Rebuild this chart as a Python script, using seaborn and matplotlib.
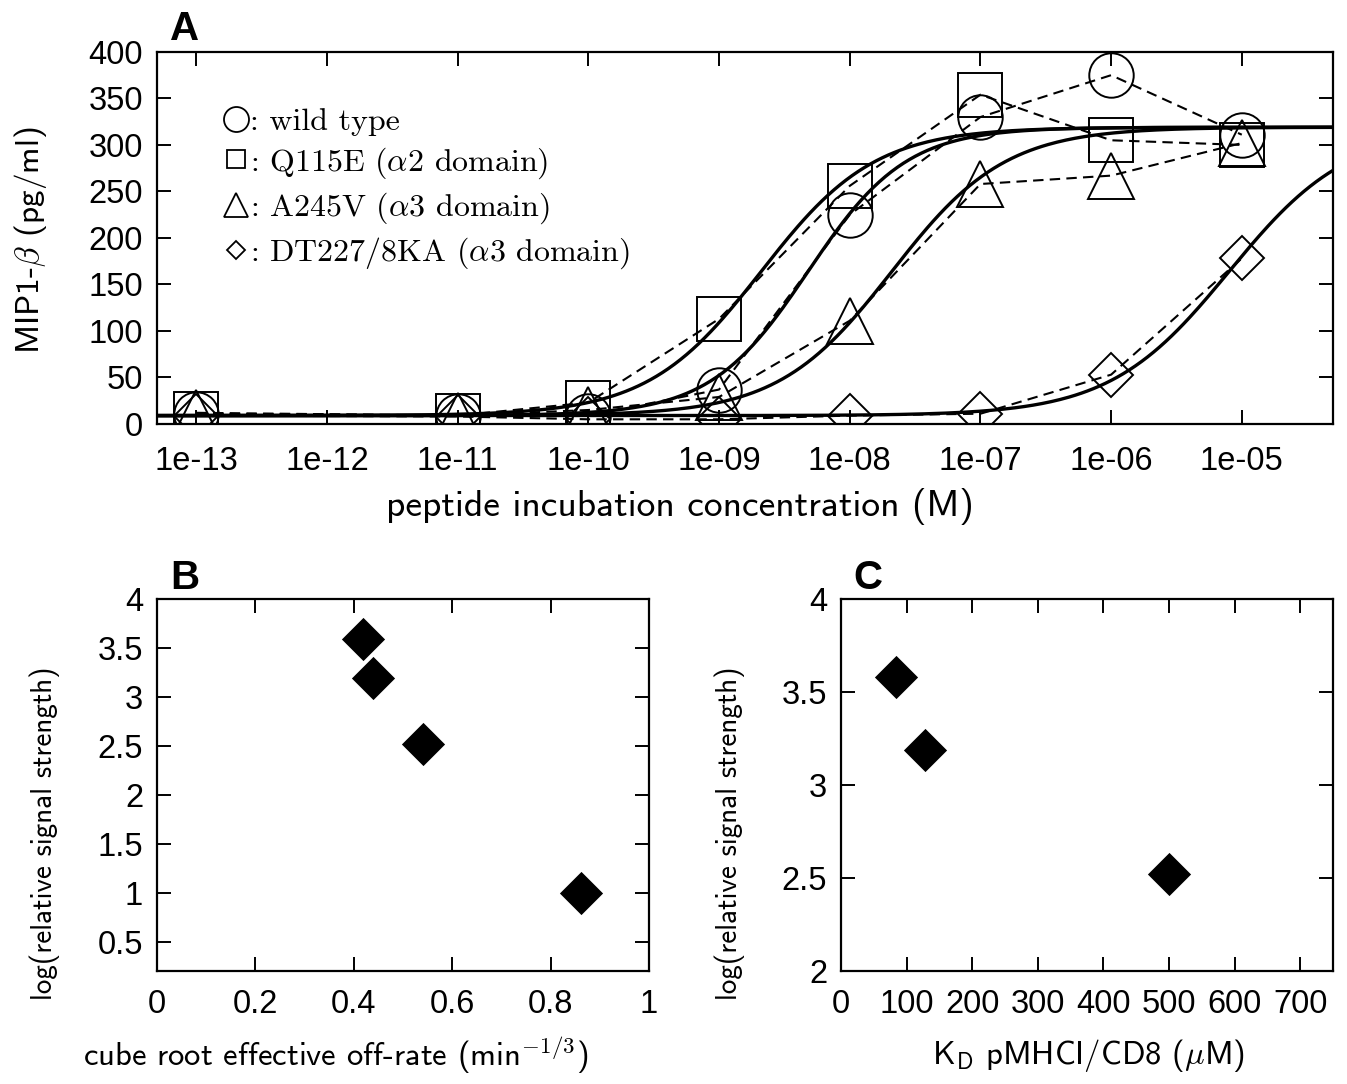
import matplotlib

matplotlib.use("Agg")
import matplotlib.pyplot as plt
import numpy as np
import seaborn as sns
from matplotlib.lines import Line2D

# ---------------------------------------------------------------------------
# Data
# ---------------------------------------------------------------------------
conc = [1e-13, 1e-11, 1e-10, 1e-9, 1e-8, 1e-7, 1e-6, 1e-5]

wild_type = [11, 9, 9, 37, 225, 330, 375, 311]
q115e = [11, 9, 23, 113, 256, 354, 305, 300]
a245v = [12, 9, 15, 29, 111, 258, 267, 302]
dt227 = [9, 8, 5, 5, 9, 11, 53, 178]

# Hill fit parameters (EC50 in M, Hill slope) for the solid curves
fit_ec50 = [4.8e-9, 2.1e-9, 2.1e-8, 8.0e-6]
fit_slope = [1.16, 1.0, 1.0, 0.95]
fit_bottom = 9
fit_top = 319

series_names = ["wild type", "Q115E", "A245V", "DT227/8KA"]
series_markers = ["o", "s", "^", "D"]
series_msize = [32, 31, 33, 22.5]
legend_msize = [18, 13, 17, 9.5]
legend_labels = [
    ": wild type",
    r": Q115E ($\alpha$2 domain)",
    r": A245V ($\alpha$3 domain)",
    r": DT227/8KA ($\alpha$3 domain)",
]

xticks_a = [1e-13, 1e-12, 1e-11, 1e-10, 1e-9, 1e-8, 1e-7, 1e-6, 1e-5]
xtick_labels_a = ["1e-13", "1e-12", "1e-11", "1e-10", "1e-09",
                  "1e-08", "1e-07", "1e-06", "1e-05"]
yticks_a = [0, 50, 100, 150, 200, 250, 300, 350, 400]

# panel B / C (filled diamonds)
off_rate = [0.419, 0.439, 0.541, 0.861]
signal_b = [3.59, 3.19, 2.52, 1.0]
kd = [84, 128, 500]
signal_c = [3.58, 3.19, 2.52]

xticks_b = [0, 0.2, 0.4, 0.6, 0.8, 1]
xtick_labels_b = ["0", "0.2", "0.4", "0.6", "0.8", "1"]
yticks_b = [0.5, 1, 1.5, 2, 2.5, 3, 3.5, 4]
ytick_labels_b = ["0.5", "1", "1.5", "2", "2.5", "3", "3.5", "4"]
xticks_c = [0, 100, 200, 300, 400, 500, 600, 700]
yticks_c = [2, 2.5, 3, 3.5, 4]
ytick_labels_c = ["2", "2.5", "3", "3.5", "4"]

# ---------------------------------------------------------------------------
# Style
# ---------------------------------------------------------------------------
sns.set_theme(style="ticks")
plt.rcParams["font.family"] = ["Liberation Sans", "DejaVu Sans"]
plt.rcParams["mathtext.fontset"] = "cm"
plt.rcParams["axes.linewidth"] = 1.6
for key in ("text.color", "axes.labelcolor", "xtick.color", "ytick.color",
            "axes.edgecolor"):
    plt.rcParams[key] = "black"

TICK_FS = 23.5
LABEL_FONT = "cmss10"


def _frame(ax, xpad=13):
    for side in ("top", "right", "left", "bottom"):
        ax.spines[side].set_visible(True)
        ax.spines[side].set_color("black")
        ax.spines[side].set_linewidth(1.6)
    ax.tick_params(axis="both", which="major", direction="in", length=10,
                   width=1.4, top=True, right=True, labelsize=TICK_FS,
                   colors="black")
    ax.tick_params(axis="x", pad=xpad)
    ax.tick_params(axis="y", pad=10)
    ax.minorticks_off()
    ax.grid(False)
    ax.set_facecolor("white")


fig = plt.figure(figsize=(13.47, 10.84), dpi=100)
fig.patch.set_facecolor("white")

ax_a = fig.add_axes([0.1166, 0.6089, 0.8731, 0.3432])
ax_b = fig.add_axes([0.1166, 0.1042, 0.3653, 0.3432])
ax_c = fig.add_axes([0.6243, 0.1042, 0.3653, 0.3432])

# ---------------------------------------------------------------------------
# Panel A
# ---------------------------------------------------------------------------
curve_x = np.logspace(-13.4, -4.2, 400)
for ec50, slope in zip(fit_ec50, fit_slope):
    curve_y = fit_bottom + (fit_top - fit_bottom) / (1 + (ec50 / curve_x) ** slope)
    sns.lineplot(x=curve_x, y=curve_y, ax=ax_a, color="black", lw=2.4,
                 sort=False)

for vals, mk, ms in zip([wild_type, q115e, a245v, dt227], series_markers,
                        series_msize):
    sns.lineplot(x=conc, y=vals, ax=ax_a, color="black", lw=1.5,
                 linestyle=(0, (5, 3)), marker=mk, markersize=ms,
                 markerfacecolor="none", markeredgecolor="black",
                 markeredgewidth=1.4)

ax_a.set_xscale("log")
ax_a.set_xlim(5e-14, 5e-5)
ax_a.set_ylim(0, 400)
ax_a.set_xticks(xticks_a)
ax_a.set_xticklabels(xtick_labels_a)
ax_a.set_yticks(yticks_a)
_frame(ax_a, xpad=16)

ax_a.set_xlabel("peptide incubation concentration (M)", fontfamily=LABEL_FONT,
                fontsize=27)
ax_a.xaxis.set_label_coords(0.445, -0.223)
ax_a.xaxis.label.set_va("center")
ax_a.set_ylabel(r"MIP1-$\beta$ (pg/ml)", fontfamily=LABEL_FONT, fontsize=24)
ax_a.yaxis.set_label_coords(-0.108, 0.495)
ax_a.yaxis.label.set_va("center")

handles = [
    Line2D([], [], ls="none", marker=mk, markersize=ms, markerfacecolor="none",
           markeredgecolor="black", markeredgewidth=1.3)
    for mk, ms in zip(series_markers, legend_msize)
]
ax_a.legend(handles, legend_labels, loc="upper left",
            bbox_to_anchor=(0.045, 0.885), frameon=False,
            prop={"family": "cmr10", "size": 23}, handlelength=0.8,
            handletextpad=0.05, labelspacing=0.3, borderaxespad=0)

# ---------------------------------------------------------------------------
# Panel B
# ---------------------------------------------------------------------------
sns.scatterplot(x=off_rate, y=signal_b, ax=ax_b, marker="D", s=22 ** 2,
                color="black", edgecolor="black", linewidth=0)
ax_b.set_xlim(0, 1)
ax_b.set_ylim(0.2, 4)
ax_b.set_xticks(xticks_b)
ax_b.set_xticklabels(xtick_labels_b)
ax_b.set_yticks(yticks_b)
ax_b.set_yticklabels(ytick_labels_b)
_frame(ax_b)
ax_b.set_xlabel(r"cube root effective off-rate (min$^{-1/3}$)",
                fontfamily=LABEL_FONT, fontsize=23.5)
ax_b.xaxis.set_label_coords(0.362, -0.226)
ax_b.xaxis.label.set_va("center")
ax_b.set_ylabel("log(relative signal strength)", fontfamily=LABEL_FONT,
                fontsize=21)
ax_b.yaxis.set_label_coords(-0.228, 0.371)
ax_b.yaxis.label.set_va("center")

# ---------------------------------------------------------------------------
# Panel C
# ---------------------------------------------------------------------------
sns.scatterplot(x=kd, y=signal_c, ax=ax_c, marker="D", s=22 ** 2,
                color="black", edgecolor="black", linewidth=0)
ax_c.set_xlim(0, 750)
ax_c.set_ylim(2, 4)
ax_c.set_xticks(xticks_c)
ax_c.set_yticks(yticks_c)
ax_c.set_yticklabels(ytick_labels_c)
_frame(ax_c)
ax_c.set_xlabel(r"K$_\mathsf{D}$ pMHCI/CD8 ($\mu$M)", fontfamily=LABEL_FONT,
                fontsize=23.5)
ax_c.xaxis.set_label_coords(0.502, -0.226)
ax_c.xaxis.label.set_va("center")
ax_c.set_ylabel("log(relative signal strength)", fontfamily=LABEL_FONT,
                fontsize=21)
ax_c.yaxis.set_label_coords(-0.226, 0.371)
ax_c.yaxis.label.set_va("center")

# panel letters
for letter, (px, py) in zip("ABC", [(185, 29), (185, 578), (868, 578)]):
    fig.text(px / 1347, 1 - py / 1084, letter, fontsize=29, fontweight="bold",
             ha="center", va="center", color="black")

fig.savefig("out.png", dpi=100)
plt.close(fig)
